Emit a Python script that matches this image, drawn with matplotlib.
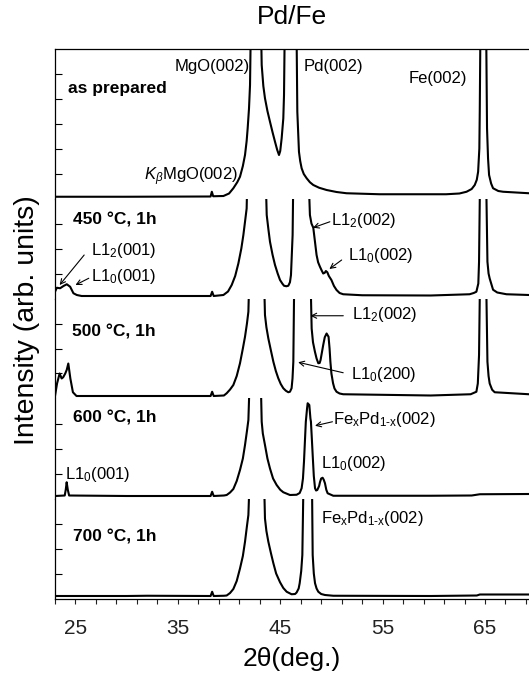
import matplotlib
matplotlib.use("Agg")
import matplotlib.pyplot as plt

# ---- data (2theta in deg, intensity in panel units) ----
x_asprep = [23.0, 30.0, 38.2, 38.32, 38.45, 39.45, 40.0, 40.42, 40.8, 41.07, 41.35, 41.56,
            41.72, 41.82, 41.95, 42.05, 42.2, 43.03, 43.19, 43.35, 43.51, 43.75, 44.0, 44.25,
            44.49, 44.7, 44.88, 45.0, 45.14, 45.3, 45.37, 45.5, 46.54, 46.67, 46.83, 46.95,
            47.09, 47.3, 47.58, 47.9, 48.23, 48.8, 49.53, 50.5, 51.48, 54.7, 61.2, 62.5,
            63.2, 63.7, 64.0, 64.2, 64.33, 64.45, 64.49, 64.6, 65.07, 65.2, 65.3, 65.4,
            65.6, 65.79, 66.3, 66.77, 69.3]
y_asprep = [0.07, 0.07, 0.08, 0.27, 0.09, 0.1, 0.2, 0.41, 0.65, 0.87, 1.3, 1.74,
            2.3, 2.81, 3.6, 4.54, 9.0, 9.0, 5.34, 4.5, 4.01, 3.5, 3.07, 2.65,
            2.27, 1.95, 1.74, 1.9, 2.41, 3.2, 4.14, 9.0, 9.0, 3.47, 1.87, 1.5,
            1.21, 0.98, 0.81, 0.65, 0.54, 0.43, 0.34, 0.26, 0.21, 0.17, 0.17, 0.2,
            0.27, 0.38, 0.54, 0.75, 1.07, 2.0, 3.47, 9.0, 9.0, 2.81, 1.6, 0.94,
            0.6, 0.41, 0.3, 0.27, 0.21]

x_450 = [23.0, 23.18, 23.5, 23.83, 24.15, 24.48, 24.8, 25.13, 25.6, 30.0, 38.2, 38.35,
         38.5, 39.45, 39.9, 40.26, 40.6, 40.91, 41.2, 41.4, 41.6, 41.72, 41.85, 43.51,
         43.68, 43.85, 44.0, 44.25, 44.49, 44.75, 44.98, 45.2, 45.37, 45.6, 45.79, 45.95,
         46.05, 46.21, 46.31, 47.68, 47.9, 48.05, 48.23, 48.4, 48.55, 48.7, 48.88, 49.05,
         49.2, 49.35, 49.46, 49.6, 49.75, 50.0, 50.25, 50.5, 50.8, 51.15, 53.0, 59.7,
         63.5, 63.9, 64.16, 64.35, 64.42, 64.55, 65.07, 65.24, 65.35, 65.46, 65.79, 66.2,
         67.1, 69.3]
y_450 = [0.27, 0.43, 0.41, 0.5, 0.57, 0.47, 0.21, 0.14, 0.1, 0.1, 0.1, 0.27,
         0.1, 0.14, 0.28, 0.54, 0.9, 1.4, 2.0, 2.54, 3.2, 3.6, 6.0, 6.0,
         3.34, 2.75, 2.27, 1.75, 1.34, 1.0, 0.74, 0.6, 0.51, 0.49, 0.51, 0.65,
         0.94, 2.54, 6.0, 6.0, 3.34, 3.0, 2.83, 2.25, 1.74, 1.45, 1.27, 1.12,
         1.0, 1.03, 1.1, 1.05, 0.9, 0.74, 0.5, 0.34, 0.22, 0.17, 0.13, 0.12,
         0.17, 0.22, 0.27, 0.6, 1.47, 6.0, 6.0, 1.47, 1.0, 0.8, 0.35, 0.24,
         0.17, 0.14]

x_500 = [23.0, 23.2, 23.45, 23.65, 23.8, 24.0, 24.15, 24.3, 24.5, 24.75, 25.1, 30.0,
         38.2, 38.35, 38.5, 39.5, 39.77, 40.1, 40.42, 40.75, 41.07, 41.35, 41.56, 41.75,
         41.89, 42.05, 43.35, 43.51, 43.65, 43.84, 44.1, 44.33, 44.57, 44.81, 45.05, 45.3,
         45.55, 45.79, 45.95, 46.11, 46.2, 46.28, 46.4, 47.9, 48.07, 48.2, 48.39, 48.55,
         48.72, 48.85, 48.94, 49.2, 49.35, 49.53, 49.72, 49.82, 49.9, 50.0, 50.16, 50.3,
         50.5, 50.8, 51.15, 59.7, 63.6, 64.16, 64.3, 64.42, 64.55, 65.07, 65.24, 65.35,
         65.46, 65.7, 65.95, 69.3]
y_500 = [0.1, 0.6, 1.0, 0.8, 0.85, 1.0, 1.15, 1.4, 0.8, 0.25, 0.1, 0.1,
         0.1, 0.27, 0.1, 0.12, 0.21, 0.36, 0.54, 0.9, 1.41, 2.0, 2.47, 3.0,
         3.47, 6.0, 6.0, 3.34, 2.85, 2.4, 1.9, 1.47, 1.1, 0.81, 0.58, 0.41,
         0.31, 0.25, 0.27, 0.41, 0.8, 1.47, 6.0, 6.0, 2.8, 2.25, 1.87, 1.6,
         1.41, 1.42, 1.54, 2.14, 2.45, 2.6, 2.47, 2.0, 1.47, 1.0, 0.61, 0.4,
         0.27, 0.2, 0.17, 0.12, 0.17, 0.27, 0.6, 1.74, 6.0, 6.0, 1.47, 0.9,
         0.6, 0.35, 0.25, 0.17]

x_600 = [23.0, 23.95, 24.05, 24.14, 24.25, 24.38, 30.0, 38.2, 38.35, 38.5, 39.5, 39.77,
         40.1, 40.42, 40.75, 41.07, 41.35, 41.56, 41.75, 41.89, 42.11, 43.03, 43.19, 43.3,
         43.51, 43.75, 44.0, 44.3, 44.65, 45.0, 45.3, 45.95, 46.6, 46.9, 47.09, 47.22,
         47.32, 47.5, 47.62, 47.68, 47.84, 47.95, 48.0, 48.1, 48.17, 48.28, 48.4, 48.5,
         48.62, 48.8, 48.88, 49.0, 49.14, 49.25, 49.37, 49.5, 49.63, 50.18, 59.7, 63.7,
         64.5, 69.3]
y_600 = [0.1, 0.12, 0.35, 0.65, 0.35, 0.12, 0.1, 0.1, 0.27, 0.1, 0.12, 0.14,
         0.24, 0.38, 0.7, 1.14, 1.6, 2.14, 2.7, 3.14, 6.0, 6.0, 3.07, 2.6,
         2.14, 1.6, 1.2, 0.8, 0.54, 0.35, 0.25, 0.14, 0.15, 0.22, 0.41, 0.8,
         1.47, 3.07, 3.6, 3.81, 3.74, 3.2, 3.07, 2.3, 1.74, 0.9, 0.41, 0.32,
         0.34, 0.5, 0.65, 0.8, 0.83, 0.75, 0.61, 0.35, 0.21, 0.11, 0.11, 0.12,
         0.17, 0.18]

x_700 = [23.0, 30.0, 32.0, 38.2, 38.35, 38.5, 39.5, 39.77, 40.1, 40.42, 40.75, 41.07,
         41.35, 41.56, 41.75, 41.89, 42.11, 43.35, 43.51, 43.65, 43.84, 44.1, 44.33, 44.6,
         44.98, 45.3, 45.63, 46.11, 46.45, 46.6, 46.8, 46.9, 47.05, 47.16, 47.32, 48.07,
         48.17, 48.28, 48.4, 48.55, 48.72, 49.0, 49.37, 50.18, 59.7, 64.2, 64.5, 69.3]
y_700 = [0.1, 0.1, 0.11, 0.1, 0.27, 0.1, 0.11, 0.12, 0.22, 0.38, 0.7, 1.2,
         1.7, 2.27, 2.9, 3.34, 6.0, 6.0, 3.2, 2.7, 2.27, 1.8, 1.41, 1.0,
         0.65, 0.42, 0.27, 0.17, 0.18, 0.24, 0.4, 0.61, 1.1, 1.74, 6.0, 6.0,
         1.74, 1.0, 0.61, 0.4, 0.27, 0.18, 0.14, 0.11, 0.1, 0.12, 0.16, 0.16]

series = [(x_asprep, y_asprep), (x_450, y_450), (x_500, y_500), (x_600, y_600), (x_700, y_700)]
panel_labels = ["as prepared", "450 °C, 1h", "500 °C, 1h", "600 °C, 1h", "700 °C, 1h"]
label_pos = [(24.3, 4.4), (24.8, 3.14), (24.7, 2.67), (24.8, 3.21), (24.8, 2.47)]
panel_ymax = [6, 4, 4, 4, 4]

major_ticks = [25, 35, 45, 55, 65]

plt.rcParams['font.family'] = ['Liberation Sans', 'DejaVu Sans']
plt.rcParams['mathtext.fontset'] = 'custom'
plt.rcParams['mathtext.rm'] = 'Liberation Sans'
plt.rcParams['mathtext.it'] = 'Liberation Sans:italic'
plt.rcParams['mathtext.bf'] = 'Liberation Sans:bold'

W, H = 529, 675
fig = plt.figure(figsize=(W / 100, H / 100), dpi=100)
edges = [48.5, 198.5, 298.5, 398.5, 498.5, 598.5]
x0 = 55

axes = []
for i in range(5):
    top, bot = edges[i], edges[i + 1]
    ax = fig.add_axes([x0 / W, 1 - bot / H, 1 - x0 / W, (bot - top) / H])
    xs, ys = series[i]
    ax.plot(xs, ys, color='black', lw=1.5)
    ax.set_xlim(23, 69.3)
    ax.set_ylim(0, panel_ymax[i])
    ax.set_yticks(range(1, panel_ymax[i]))
    ax.tick_params(axis='y', direction='in', length=5, width=0.8, labelleft=False)
    ax.spines['right'].set_visible(False)
    ax.spines['top'].set_visible(i == 0)
    ax.spines['bottom'].set_visible(i == 4)
    for s in ax.spines.values():
        s.set_linewidth(0.9)
    if i < 4:
        ax.tick_params(axis='x', bottom=False, labelbottom=False)
    ax.text(label_pos[i][0], label_pos[i][1], panel_labels[i], fontsize=12.5,
            fontweight='bold', va='center', ha='left')
    axes.append(ax)

axb = axes[4]
axb.set_xticks(major_ticks)
axb.set_xticks([v for v in range(23, 70, 2) if v not in major_ticks], minor=True)
axb.tick_params(axis='x', which='both', direction='out', length=3.5, width=0.8,
                labelsize=15, pad=11, colors='#222222')

fs = 12
def note(ax, x, y, s, ha='left'):
    ax.text(x, y, s, fontsize=fs, va='center', ha=ha)

def arrow(ax, head, tail):
    ax.annotate('', xy=head, xytext=tail,
                arrowprops=dict(arrowstyle='->', lw=0.8, color='black',
                                shrinkA=0, shrinkB=0, mutation_scale=9))

fexpd = r"Fe$_\mathrm{x}$Pd$_\mathrm{1\text{-}x}$(002)"

a1, a2, a3, a4, a5 = axes
note(a1, 42.0, 5.27, "MgO(002)", ha='right')
note(a1, 47.3, 5.27, "Pd(002)")
note(a1, 57.5, 4.8, "Fe(002)")
note(a1, 40.9, 0.87, r"$K_{\beta}$MgO(002)", ha='right')

note(a2, 26.5, 1.94, r"L1$_2$(001)")
note(a2, 26.5, 0.87, r"L1$_0$(001)")
arrow(a2, (23.45, 0.54), (25.85, 1.74))
arrow(a2, (25.0, 0.54), (26.3, 0.81))
note(a2, 50.0, 3.14, r"L1$_2$(002)")
arrow(a2, (48.2, 2.83), (49.85, 3.07))
note(a2, 51.6, 1.74, r"L1$_0$(002)")
arrow(a2, (49.8, 1.18), (51.0, 1.54))

note(a3, 52.0, 3.34, r"L1$_2$(002)")
arrow(a3, (47.95, 3.31), (51.16, 3.31))
note(a3, 51.9, 0.94, r"L1$_0$(200)")
arrow(a3, (46.75, 1.45), (51.15, 1.03))

note(a4, 50.2, 3.14, fexpd)
arrow(a4, (48.4, 2.91), (50.1, 3.07))
note(a4, 49.0, 1.41, r"L1$_0$(002)")
note(a4, 24.0, 0.94, r"L1$_0$(001)")

note(a5, 49.0, 3.21, fexpd)

fig.text(292 / W, 1 - 16.5 / H, "Pd/Fe", fontsize=19, ha='center', va='center')
fig.text(292 / W, 1 - 659 / H, "2θ(deg.)", fontsize=19, ha='center', va='center')
fig.text(27 / W, 1 - 320 / H, "Intensity (arb. units)", fontsize=20.5, rotation=90,
         ha='center', va='center')

fig.savefig("out.png", dpi=100)
